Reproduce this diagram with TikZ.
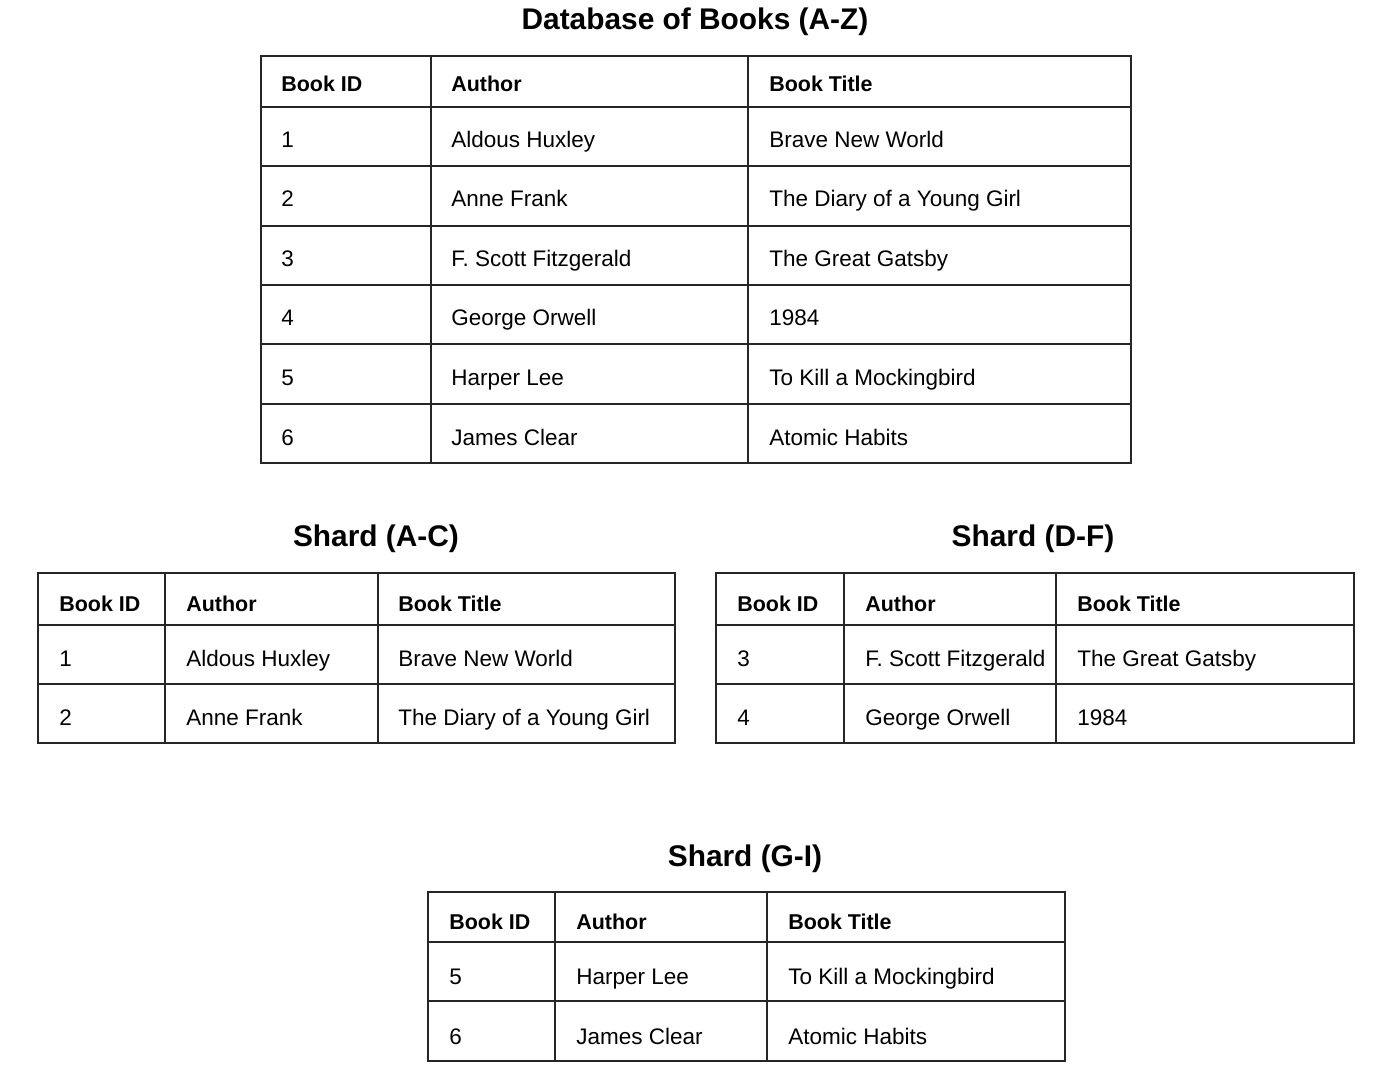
\documentclass[tikz,border=0pt]{standalone}
\usepackage{fontspec}
\setmainfont{Liberation Sans}
\usepackage{tikz}
\tikzset{
  tableline/.style={black!85, line width=1.1pt},
  cell/.style={anchor=base west, inner sep=0pt, font=\fontsize{12.8}{15}\selectfont},
  headcell/.style={cell, font=\fontsize{12.2}{14}\selectfont\bfseries},
  tabletitle/.style={anchor=base, inner sep=0pt, font=\fontsize{17}{20}\selectfont\bfseries}
}

\begin{document}
\begin{tikzpicture}[x=0.02cm, y=-0.02cm]
        \useasboundingbox[fill=white] (0,0) rectangle (1386,1074);

        %% main table
        \node[tabletitle] (maintitle) at (695,30) {Database of Books (A-Z)};
        \draw[tableline] (261,56) rectangle (1131,463);
        \foreach \y in {107,166,226,285,344,404} \draw[tableline] (261,\y) -- (1131,\y);
        \draw[tableline] (431,56) -- (431,463);
        \draw[tableline] (748,56) -- (748,463);
        \node[headcell] (mainhid) at (281,92) {Book ID};
        \node[headcell] (mainhau) at (451,92) {Author};
        \node[headcell] (mainhti) at (769,92) {Book Title};
        \foreach \y/\id/\au/\ti in {140/1/Aldous Huxley/Brave New World,
            199/2/Anne Frank/The Diary of a Young Girl,
            259/3/F. Scott Fitzgerald/The Great Gatsby,
            318/4/George Orwell/1984,
            378/5/Harper Lee/To Kill a Mockingbird,
            437/6/James Clear/Atomic Habits}{
          \node[cell] (mainid\id) at (281,\y+8) {\id};
          \node[cell] (mainau\id) at (451,\y+8) {\au};
          \node[cell] (mainti\id) at (769,\y+8) {\ti};
        }

        %% shard A-C
        \node[tabletitle] (actitle) at (376,546) {Shard (A-C)};
        \draw[tableline] (38,573) rectangle (675,743);
        \foreach \y in {625,684} \draw[tableline] (38,\y) -- (675,\y);
        \draw[tableline] (165,573) -- (165,743);
        \draw[tableline] (378,573) -- (378,743);
        \node[headcell] (achid) at (59,611) {Book ID};
        \node[headcell] (achau) at (186,611) {Author};
        \node[headcell] (achti) at (398,611) {Book Title};
        \foreach \y/\id/\au/\ti in {658/1/Aldous Huxley/Brave New World,
            717/2/Anne Frank/The Diary of a Young Girl}{
          \node[cell] (acid\id) at (59,\y+8) {\id};
          \node[cell] (acau\id) at (186,\y+8) {\au};
          \node[cell] (acti\id) at (398,\y+8) {\ti};
        }

        %% shard D-F
        \node[tabletitle] (dftitle) at (1033,546) {Shard (D-F)};
        \draw[tableline] (716,573) rectangle (1354,743);
        \foreach \y in {625,684} \draw[tableline] (716,\y) -- (1354,\y);
        \draw[tableline] (844,573) -- (844,743);
        \draw[tableline] (1056,573) -- (1056,743);
        \node[headcell] (dfhid) at (737,611) {Book ID};
        \node[headcell] (dfhau) at (865,611) {Author};
        \node[headcell] (dfhti) at (1077,611) {Book Title};
        \foreach \y/\id/\au/\ti in {658/3/F. Scott Fitzgerald/The Great Gatsby,
            717/4/George Orwell/1984}{
          \node[cell] (dfid\id) at (737,\y+8) {\id};
          \node[cell] (dfau\id) at (865,\y+8) {\au};
          \node[cell] (dfti\id) at (1077,\y+8) {\ti};
        }

        %% shard G-I
        \node[tabletitle] (gititle) at (745,866) {Shard (G-I)};
        \draw[tableline] (428,892) rectangle (1065,1061);
        \foreach \y in {942,1001} \draw[tableline] (428,\y) -- (1065,\y);
        \draw[tableline] (555,892) -- (555,1061);
        \draw[tableline] (767,892) -- (767,1061);
        \node[headcell] (gihid) at (449,929) {Book ID};
        \node[headcell] (gihau) at (576,929) {Author};
        \node[headcell] (gihti) at (788,929) {Book Title};
        \foreach \y/\id/\au/\ti in {976/5/Harper Lee/To Kill a Mockingbird,
            1036/6/James Clear/Atomic Habits}{
          \node[cell] (giid\id) at (449,\y+8) {\id};
          \node[cell] (giau\id) at (576,\y+8) {\au};
          \node[cell] (giti\id) at (788,\y+8) {\ti};
        }
\end{tikzpicture}
\end{document}
